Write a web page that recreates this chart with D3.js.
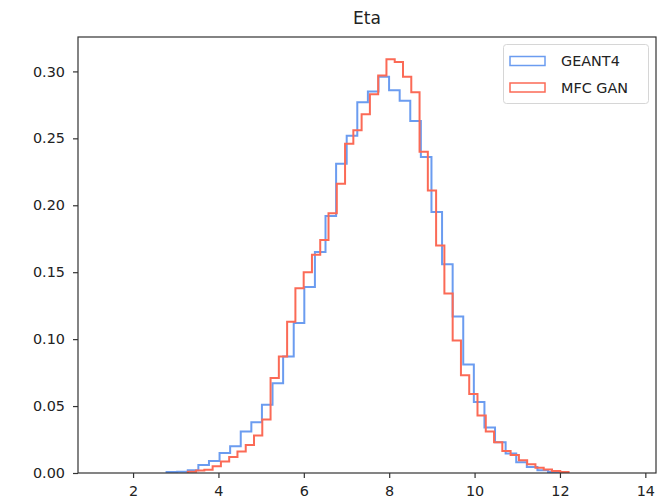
<!DOCTYPE html>
<html><head><meta charset="utf-8">
<script src="https://cdn.jsdelivr.net/npm/d3@7"></script>
<style>
body{margin:0;background:#fff}
svg{display:block}
text{font-family:"DejaVu Sans",sans-serif}
</style>
</head><body>
<svg id="chart" width="664" height="504"></svg>
<script>
const chartTitle = "Eta";
const seriesNames = ["GEANT4", "MFC GAN"];
const xTicks = [2, 4, 6, 8, 10, 12, 14];
const yTicks = [0.00, 0.05, 0.10, 0.15, 0.20, 0.25, 0.30];
const xDomain = [0.71, 14.25];
const yDomain = [0, 0.3257];

// GEANT4 histogram (density), bin start and width
const geantStart = 2.785;
const geantBinWidth = 0.2482;
const geantDensity = [0.0007, 0.001, 0.002, 0.006, 0.009, 0.015, 0.020, 0.031, 0.038, 0.051,
  0.067, 0.087, 0.112, 0.139, 0.165, 0.192, 0.231, 0.252, 0.277, 0.285,
  0.296, 0.286, 0.278, 0.263, 0.236, 0.195, 0.156, 0.117, 0.081, 0.053,
  0.034, 0.023, 0.0145, 0.008, 0.0045, 0.002, 0.0008];

// MFC GAN histogram (density)
const ganStart = 3.282;
const ganBinWidth = 0.1939;
const ganDensity = [0.001, 0.0018, 0.0025, 0.005, 0.0085, 0.012, 0.016, 0.021, 0.028, 0.040,
  0.071, 0.087, 0.113, 0.138, 0.150, 0.163, 0.174, 0.194, 0.216, 0.246,
  0.256, 0.268, 0.283, 0.297, 0.309, 0.307, 0.296, 0.2845, 0.240, 0.211,
  0.170, 0.134, 0.099, 0.073, 0.059, 0.043, 0.031, 0.023, 0.0165, 0.0135,
  0.0095, 0.0065, 0.004, 0.0027, 0.0015, 0.0008];

const seriesColors = ["#6b9cf0", "#fb6a56"];

const L = 78, R = 656, T = 37, B = 473;
const svg = d3.select("#chart");
const x = d3.scaleLinear().domain(xDomain).range([L, R]);
const y = d3.scaleLinear().domain(yDomain).range([B, T]);

function stepPath(start, width, vals) {
  const pts = [[start, 0]];
  vals.forEach((v, i) => {
    pts.push([start + i * width, v]);
    pts.push([start + (i + 1) * width, v]);
  });
  pts.push([start + vals.length * width, 0]);
  return d3.line().x(d => x(d[0])).y(d => y(d[1]))(pts);
}

const plot = svg.append("g");
plot.append("path").attr("d", stepPath(geantStart, geantBinWidth, geantDensity))
  .attr("fill", "none").attr("stroke", seriesColors[0]).attr("stroke-width", 2);
plot.append("path").attr("d", stepPath(ganStart, ganBinWidth, ganDensity))
  .attr("fill", "none").attr("stroke", seriesColors[1]).attr("stroke-width", 2);

// axes
const xAxis = svg.append("g").attr("transform", `translate(0,${B})`)
  .call(d3.axisBottom(x).tickValues(xTicks).tickSize(5).tickPadding(8).tickFormat(d3.format("d")));
const yAxis = svg.append("g").attr("transform", `translate(${L},0)`)
  .call(d3.axisLeft(y).tickValues(yTicks).tickSize(5).tickPadding(8).tickFormat(d3.format(".2f")));
[xAxis, yAxis].forEach(a => {
  a.select(".domain").remove();
  a.selectAll("line").attr("stroke", "#333").attr("stroke-width", 1.2);
  a.selectAll("text").attr("fill", "#222").style("font-size", "14.4px")
    .style("font-family", '"DejaVu Sans", sans-serif');
});

svg.append("rect").attr("x", L).attr("y", T).attr("width", R - L).attr("height", B - T)
  .attr("fill", "none").attr("stroke", "#333").attr("stroke-width", 1.2);

svg.append("text").attr("x", (L + R) / 2).attr("y", 24).attr("text-anchor", "middle")
  .style("font-size", "17px").attr("fill", "#222").text(chartTitle);

// legend
const lg = svg.append("g");
lg.append("rect").attr("x", 503.5).attr("y", 44.5).attr("width", 145).attr("height", 59).attr("rx", 3)
  .attr("fill", "#fff").attr("fill-opacity", 0.8).attr("stroke", "#d6d6d6").attr("stroke-width", 1);
seriesNames.forEach((name, i) => {
  const cy = 61 + i * 26.5;
  lg.append("rect").attr("x", 510).attr("y", cy - 4.5).attr("width", 35).attr("height", 9)
    .attr("fill", "none").attr("stroke", seriesColors[i]).attr("stroke-width", 1.5);
  lg.append("text").attr("x", 561).attr("y", cy).attr("dy", "0.36em")
    .style("font-size", "14.4px").attr("fill", "#222").text(name);
});
</script>
</body></html>
